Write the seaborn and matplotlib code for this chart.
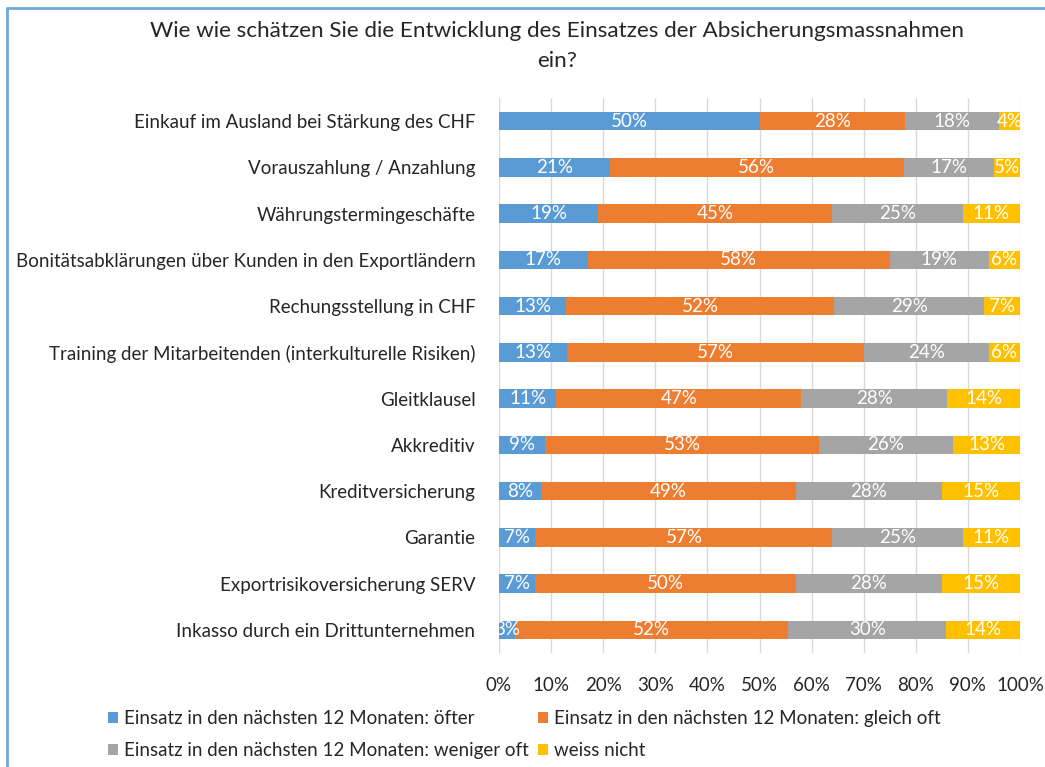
import matplotlib
matplotlib.use("Agg")
import matplotlib.pyplot as plt
import seaborn as sns
import numpy as np
import pandas as pd
from matplotlib.lines import Line2D
from matplotlib.patches import Patch

categories = [
    "Einkauf im Ausland bei Stärkung des CHF",
    "Vorauszahlung / Anzahlung",
    "Währungstermingeschäfte",
    "Bonitätsabklärungen über Kunden in den Exportländern",
    "Rechungsstellung in CHF",
    "Training der Mitarbeitenden (interkulturelle Risiken)",
    "Gleitklausel",
    "Akkreditiv",
    "Kreditversicherung",
    "Garantie",
    "Exportrisikoversicherung SERV",
    "Inkasso durch ein Drittunternehmen",
]
oefter = [50, 21, 19, 17, 13, 13, 11, 9, 8, 7, 7, 3]
gleich_oft = [28, 56, 45, 58, 52, 57, 47, 53, 49, 57, 50, 52]
weniger_oft = [18, 17, 25, 19, 29, 24, 28, 26, 28, 25, 28, 30]
weiss_nicht = [4, 5, 11, 6, 7, 6, 14, 13, 15, 11, 15, 14]

series_names = [
    "Einsatz in den nächsten 12 Monaten: öfter",
    "Einsatz in den nächsten 12 Monaten: gleich oft",
    "Einsatz in den nächsten 12 Monaten: weniger oft",
    "weiss nicht",
]
colors = ["#5B9BD5", "#ED7D31", "#A5A5A5", "#FFC000"]
x_ticks = [0, 10, 20, 30, 40, 50, 60, 70, 80, 90, 100]
x_ticklabels = ["0%", "10%", "20%", "30%", "40%", "50%", "60%", "70%", "80%", "90%", "100%"]
title = "Wie wie schätzen Sie die Entwicklung des Einsatzes der Absicherungsmassnahmen\nein?"

sns.set_theme(style="white")
FONT = ["Lato", "DejaVu Sans"]
plt.rcParams["font.family"] = FONT

vals = np.array([oefter, gleich_oft, weniger_oft, weiss_nicht], dtype=float)
share = vals / vals.sum(axis=0) * 100  # 100% stacked
cum = np.cumsum(share, axis=0)

fig = plt.figure(figsize=(10.45, 7.67), dpi=100)
ax = fig.add_axes([499 / 1045, 1 - 653 / 767, 521 / 1045, 555 / 767])

# draw from full total down so each layer overlays the previous
for i in range(3, -1, -1):
    df = pd.DataFrame({"cat": categories, "val": cum[i]})
    sns.barplot(data=df, x="val", y="cat", orient="h", color=colors[i],
                width=0.4, ax=ax, saturation=1, edgecolor="none", linewidth=0)

# data labels
for i in range(4):
    start = cum[i] - share[i]
    for j, c in enumerate(categories):
        ax.text(start[j] + share[i][j] / 2, j, f"{int(vals[i][j])}%",
                ha="center", va="center", color="white", fontsize=13.5)

ax.set_xlim(0, 100)
ax.set_ylim(len(categories) - 0.5, -0.5)
ax.set_xticks(x_ticks)
ax.set_xticklabels(x_ticklabels, fontsize=13.5, color="#262626")
ax.tick_params(axis="y", labelsize=13.5, labelcolor="#262626", pad=17, length=0)
ax.tick_params(axis="x", pad=17, length=0)
ax.set_xlabel("")
ax.set_ylabel("")
ax.grid(axis="x", color="#D9D9D9", linewidth=1)
ax.set_axisbelow(True)
for s in ax.spines.values():
    s.set_visible(False)

fig.text(557 / 1045, 1 - 46 / 767, title, ha="center", va="center",
         fontsize=16.2, color="#262626", linespacing=1.6)

handles = [Patch(facecolor=colors[k], edgecolor="none") for k in range(4)]
order = [0, 2, 1, 3]
leg = fig.legend([handles[k] for k in order], [series_names[k] for k in order],
                 ncol=2, loc="upper left", bbox_to_anchor=(108 / 1045, 1 - 710 / 767),
                 frameon=False, fontsize=13.5, handlelength=0.55, handleheight=0.55,
                 handletextpad=0.3, columnspacing=0.5, labelspacing=0.8,
                 borderpad=0, borderaxespad=0, labelcolor="#262626")

fig.add_artist(Line2D([7 / 1045, 7 / 1045], [0, 1 - 8 / 767], transform=fig.transFigure,
                      color="#6FA8DC", linewidth=2))
fig.add_artist(Line2D([7 / 1045, 1], [1 - 8 / 767, 1 - 8 / 767], transform=fig.transFigure,
                      color="#6FA8DC", linewidth=2))

fig.savefig("out.png", dpi=100)
